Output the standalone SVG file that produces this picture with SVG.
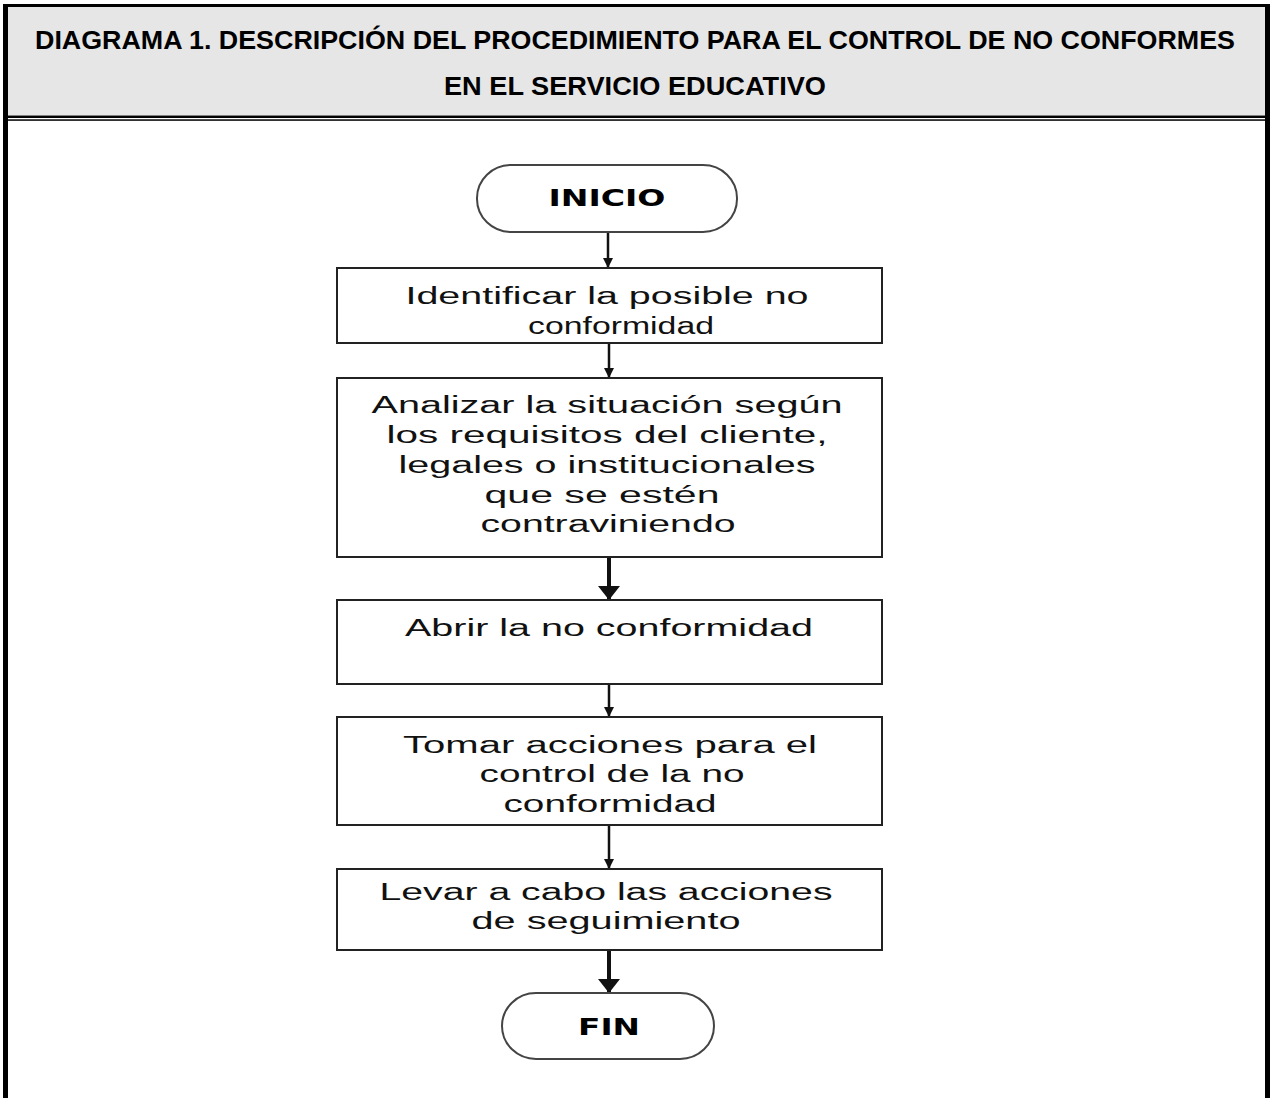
<svg xmlns="http://www.w3.org/2000/svg" width="1270" height="1098" viewBox="0 0 1270 1098">
  <style>
    .title { font-family: "Liberation Sans", Arial, sans-serif; font-weight: bold; font-size: 25px; fill: #000; }
    .term { fill: #fff; stroke: #444; stroke-width: 2; }
    .term-label { font-family: "DejaVu Sans", Verdana, sans-serif; font-weight: bold; font-size: 23px; fill: #000; }
    .box { fill: #fff; stroke: #222; stroke-width: 2; }
    .label { font-family: "Liberation Sans", Arial, sans-serif; font-size: 23px; fill: #111; }
    .flow { stroke: #111; stroke-width: 2.5; fill: none; }
    .flow-heavy { stroke: #111; stroke-width: 4; fill: none; }
  </style>
  <defs>
    <!-- arrowheads drawn pointing along +x; orient="auto" turns them down the line -->
    <marker id="tipSmall" markerUnits="userSpaceOnUse" markerWidth="10" markerHeight="10" viewBox="0 0 10 10" refX="10" refY="5" orient="auto">
      <path d="M0,0 L10,5 L0,10 Z" fill="#111"/>
    </marker>
    <marker id="tipLarge" markerUnits="userSpaceOnUse" markerWidth="14" markerHeight="22" viewBox="0 0 14 22" refX="14" refY="11" orient="auto">
      <path d="M0,0 L14,11 L0,22 Z" fill="#111"/>
    </marker>
  </defs>

  <rect width="1270" height="1098" fill="#fff"/>

  <!-- page frame and title band -->
  <g id="frame">
    <rect x="8" y="7" width="1257" height="108" fill="#e6e6e6"/>
    <rect x="3" y="4" width="1267" height="3" fill="#000"/>
    <rect x="3" y="4" width="5" height="1094" fill="#000"/>
    <rect x="1265" y="4" width="5" height="1094" fill="#000"/>
    <rect x="8" y="115.5" width="1257" height="2.5" fill="#000"/>
    <rect x="8" y="119.3" width="1257" height="1.5" fill="#000"/>
  </g>

  <g id="title">
    <text class="title" x="635" y="49" text-anchor="middle" textLength="1200" lengthAdjust="spacingAndGlyphs">DIAGRAMA 1. DESCRIPCIÓN DEL PROCEDIMIENTO PARA EL CONTROL DE NO CONFORMES</text>
    <text class="title" x="635" y="95" text-anchor="middle" textLength="382" lengthAdjust="spacingAndGlyphs">EN EL SERVICIO EDUCATIVO</text>
  </g>

  <!-- connectors -->
  <g id="connectors">
    <line class="flow" x1="608" y1="232" x2="608" y2="268" marker-end="url(#tipSmall)"/>
    <line class="flow" x1="609" y1="343" x2="609" y2="378" marker-end="url(#tipSmall)"/>
    <line class="flow-heavy" x1="609" y1="557" x2="609" y2="600" marker-end="url(#tipLarge)"/>
    <line class="flow" x1="609" y1="684" x2="609" y2="717" marker-end="url(#tipSmall)"/>
    <line class="flow" x1="609" y1="825" x2="609" y2="869" marker-end="url(#tipSmall)"/>
    <line class="flow-heavy" x1="609" y1="950" x2="609" y2="993" marker-end="url(#tipLarge)"/>
  </g>

  <!-- nodes -->
  <g id="inicio">
    <rect class="term" x="477" y="165" width="260" height="67" rx="34" ry="33"/>
    <text class="term-label" x="607" y="206" text-anchor="middle" textLength="117" lengthAdjust="spacingAndGlyphs">INICIO</text>
  </g>

  <g id="identificar">
    <rect class="box" x="337" y="268" width="545" height="75"/>
    <text class="label" x="607" y="304" text-anchor="middle" textLength="403" lengthAdjust="spacingAndGlyphs">Identificar la posible no</text>
    <text class="label" x="621" y="334" text-anchor="middle" textLength="186" lengthAdjust="spacingAndGlyphs">conformidad</text>
  </g>

  <g id="analizar">
    <rect class="box" x="337" y="378" width="545" height="179"/>
    <text class="label" x="607" y="413" text-anchor="middle" textLength="471" lengthAdjust="spacingAndGlyphs">Analizar la situación según</text>
    <text class="label" x="607" y="443" text-anchor="middle" textLength="441" lengthAdjust="spacingAndGlyphs">los requisitos del cliente,</text>
    <text class="label" x="607" y="473" text-anchor="middle" textLength="417" lengthAdjust="spacingAndGlyphs">legales o institucionales</text>
    <text class="label" x="602" y="503" text-anchor="middle" textLength="235" lengthAdjust="spacingAndGlyphs">que se estén</text>
    <text class="label" x="608" y="532" text-anchor="middle" textLength="255" lengthAdjust="spacingAndGlyphs">contraviniendo</text>
  </g>

  <g id="abrir">
    <rect class="box" x="337" y="600" width="545" height="84"/>
    <text class="label" x="609" y="636" text-anchor="middle" textLength="408" lengthAdjust="spacingAndGlyphs">Abrir la no conformidad</text>
  </g>

  <g id="tomar">
    <rect class="box" x="337" y="717" width="545" height="108"/>
    <text class="label" x="610" y="753" text-anchor="middle" textLength="414" lengthAdjust="spacingAndGlyphs">Tomar acciones para el</text>
    <text class="label" x="612" y="782" text-anchor="middle" textLength="265" lengthAdjust="spacingAndGlyphs">control de la no</text>
    <text class="label" x="610" y="812" text-anchor="middle" textLength="213" lengthAdjust="spacingAndGlyphs">conformidad</text>
  </g>

  <g id="seguimiento">
    <rect class="box" x="337" y="869" width="545" height="81"/>
    <text class="label" x="606" y="900" text-anchor="middle" textLength="453" lengthAdjust="spacingAndGlyphs">Levar a cabo las acciones</text>
    <text class="label" x="606" y="929" text-anchor="middle" textLength="269" lengthAdjust="spacingAndGlyphs">de seguimiento</text>
  </g>

  <g id="fin">
    <rect class="term" x="502" y="993" width="212" height="66" rx="34" ry="33"/>
    <text class="term-label" x="609" y="1035" text-anchor="middle" textLength="62" lengthAdjust="spacingAndGlyphs">FIN</text>
  </g>
</svg>
